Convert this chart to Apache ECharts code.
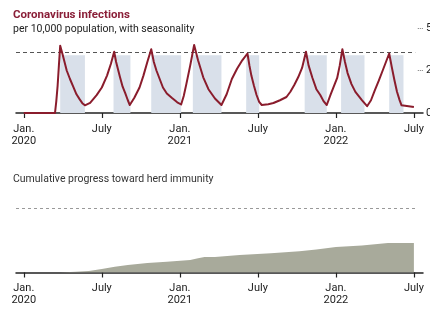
<!DOCTYPE html>
<html>
<head>
<meta charset="utf-8">
<script src="https://cdn.jsdelivr.net/npm/echarts@6/dist/echarts.min.js"></script>
<style>
  html, body { margin: 0; padding: 0; background: #fff; }
  #main { width: 430px; height: 309px; }
</style>
</head>
<body>
<div id="main"></div>
<script>
// months since Jan. 2020
var tickMonths = [0, 6, 12, 18, 24, 30];
var tickLabels = ['Jan.\n2020', 'July', 'Jan.\n2021', 'July', 'Jan.\n2022', 'July'];

// infections per 10,000
var infMonths = [0, 2.4, 2.5, 2.6, 2.7, 2.8,
  3.0, 3.3, 3.55, 3.8, 4.05, 4.3, 4.5, 4.7,
  5.1, 5.6, 6.0, 6.4, 6.7, 6.95,
  7.1, 7.4, 7.6, 7.8, 8.0, 8.15,
  8.5, 8.9, 9.2, 9.5, 9.8,
  10.0, 10.2, 10.7, 11.0, 11.4, 11.8, 12.1,
  12.3, 12.5, 12.8, 13.1,
  13.4, 13.8, 14.2, 14.7, 15.2,
  15.6, 16.0, 16.4, 16.8, 17.2,
  17.35, 17.5, 17.7, 17.9, 18.1, 18.3,
  18.8, 19.2, 19.7, 20.2, 20.5, 20.8, 21.1, 21.4, 21.7,
  21.9, 22.2, 22.5, 22.8, 23.05, 23.3,
  23.6, 24.1, 24.3, 24.5,
  24.7, 24.9, 25.2, 25.5, 26.0, 26.4,
  26.7, 27.0, 27.3, 27.6, 27.85, 28.1,
  28.3, 28.5, 28.7, 28.9, 29.05, 29.2, 30];
var infValues = [0, 0, 7, 16, 28, 39.6,
  34, 25, 20, 15.5, 11, 8, 5.8, 4.5,
  6, 10.5, 15, 22, 29, 36,
  30, 21, 15.5, 11.7, 7.5, 4.7,
  9, 15, 22, 30, 37.5,
  30, 25, 15, 11.5, 8.8, 6.3, 5,
  10, 17, 28, 40,
  31, 21, 14, 8.5, 4.7,
  11, 20, 26, 31, 35,
  28, 22, 16, 10.6, 6.5, 4.7,
  5.2, 5.9, 7.5, 9.4, 12.5, 16.5, 21, 26.5, 36,
  28, 20.6, 14, 10.6, 7, 4.7,
  11, 20.6, 28, 37.5,
  30, 23.5, 17, 12.4, 7.6, 4,
  7.5, 13.5, 19, 25, 30, 35,
  27, 19.4, 12.5, 7.6, 4.5, 3.5, 3.5];
var threshold = 35.5;

// seasonal shading (decline periods)
var shadeStart = [2.8, 6.9, 9.8, 13.0, 17.1, 21.6, 24.4, 28.1];
var shadeEnd   = [4.7, 8.2, 12.1, 15.2, 18.1, 23.3, 26.2, 29.2];
var shadeTop = 34;

// cumulative progress toward herd immunity (% of threshold)
var immMonths = [0, 2.8, 4, 5, 6, 7, 8, 9.5, 11, 12.8, 13.4, 13.9, 14.7, 16.6, 19, 21.2, 22.5, 24, 26, 28, 30];
var immValues = [0, 0, 1, 2.3, 5.4, 9, 11.5, 14.7, 16.5, 19.4, 22, 24, 24, 27, 30, 33, 35.5, 39.5, 42, 45.7, 45.7];

// right-hand scale of the top panel
var yTicks = [25, 50];

var chart = echarts.init(document.getElementById('main'));
var font = 'Roboto, sans-serif';

function pairs(xs, ys) {
  return xs.map(function (x, i) { return [x, ys[i]]; });
}

function xAxisFor(gridIndex) {
  return {
    type: 'value', gridIndex: gridIndex, min: -0.6, max: 30.7,
    axisLine: { show: true, onZero: false, lineStyle: { color: '#222', width: 1.5 } },
    axisTick: { show: true, customValues: tickMonths, length: 5, lineStyle: { color: '#222', width: 1.2 } },
    axisLabel: {
      show: true, customValues: tickMonths, margin: 10, color: '#222',
      fontFamily: font, fontSize: 11, lineHeight: 12,
      formatter: function (v) {
        var i = tickMonths.indexOf(Math.round(v));
        return i >= 0 ? tickLabels[i] : '';
      }
    },
    splitLine: { show: false }
  };
}

var option = {
  animation: false,
  title: [
    { text: 'Coronavirus infections', left: 8, top: 4,
      textStyle: { fontFamily: font, fontSize: 11.5, fontWeight: 'bold', color: '#8a1f38' } },
    { text: 'per 10,000 population, with seasonality', left: 8, top: 18.5,
      textStyle: { fontFamily: font, fontSize: 10.5, fontWeight: 'normal', color: '#222' } },
    { text: 'Cumulative progress toward herd immunity', left: 8, top: 169,
      textStyle: { fontFamily: font, fontSize: 10.5, fontWeight: 'normal', color: '#333' } }
  ],
  grid: [
    { left: 16, right: 7, top: 28, bottom: 196, outerBoundsMode: 'none', containLabel: false },
    { left: 16, right: 7, top: 208, bottom: 36.5, outerBoundsMode: 'none', containLabel: false }
  ],
  xAxis: [xAxisFor(0), xAxisFor(1)],
  yAxis: [
    { type: 'value', gridIndex: 0, position: 'right', min: 0, max: 50, interval: 25,
      axisLine: { show: false },
      axisTick: { show: false },
      axisLabel: { margin: 3, color: '#222', fontFamily: font, fontSize: 11 },
      splitLine: { show: false } },
    { type: 'value', gridIndex: 1, min: 0, max: 100, show: false }
  ],
  series: [
    {
      type: 'line', xAxisIndex: 0, yAxisIndex: 0,
      data: pairs(infMonths, infValues),
      smooth: false, showSymbol: false,
      lineStyle: { color: '#8a1c2c', width: 2, join: 'round' },
      z: 5,
      markArea: {
        silent: true,
        label: { show: false },
        itemStyle: { color: '#d9e0ea' },
        data: shadeStart.map(function (s, i) {
          return [{ coord: [s, 0] }, { coord: [shadeEnd[i], shadeTop] }];
        })
      },
      markLine: {
        silent: true, symbol: 'none', label: { show: false },
        lineStyle: { color: '#555', type: [4, 3], width: 1 },
        data: [[{ coord: [-0.6, threshold] }, { coord: [30.1, threshold] }]]
      }
    },
    {
      type: 'line', xAxisIndex: 0, yAxisIndex: 0,
      data: [],
      markLine: {
        silent: true, symbol: 'none', label: { show: false },
        lineStyle: { color: '#777', type: [1, 1], width: 1 },
        data: yTicks.map(function (v) {
          return [{ coord: [30.3, v] }, { coord: [30.7, v] }];
        })
      }
    },
    {
      type: 'line', xAxisIndex: 1, yAxisIndex: 1,
      data: pairs(immMonths, immValues),
      showSymbol: false, smooth: false,
      lineStyle: { width: 0 },
      areaStyle: { color: '#a8aa9b', opacity: 1 },
      markLine: {
        silent: true, symbol: 'none', label: { show: false },
        lineStyle: { color: '#999', type: [3, 3], width: 1 },
        data: [[{ coord: [-0.6, 100] }, { coord: [30.1, 100] }]]
      }
    }
  ]
};

chart.setOption(option);
</script>
</body>
</html>
